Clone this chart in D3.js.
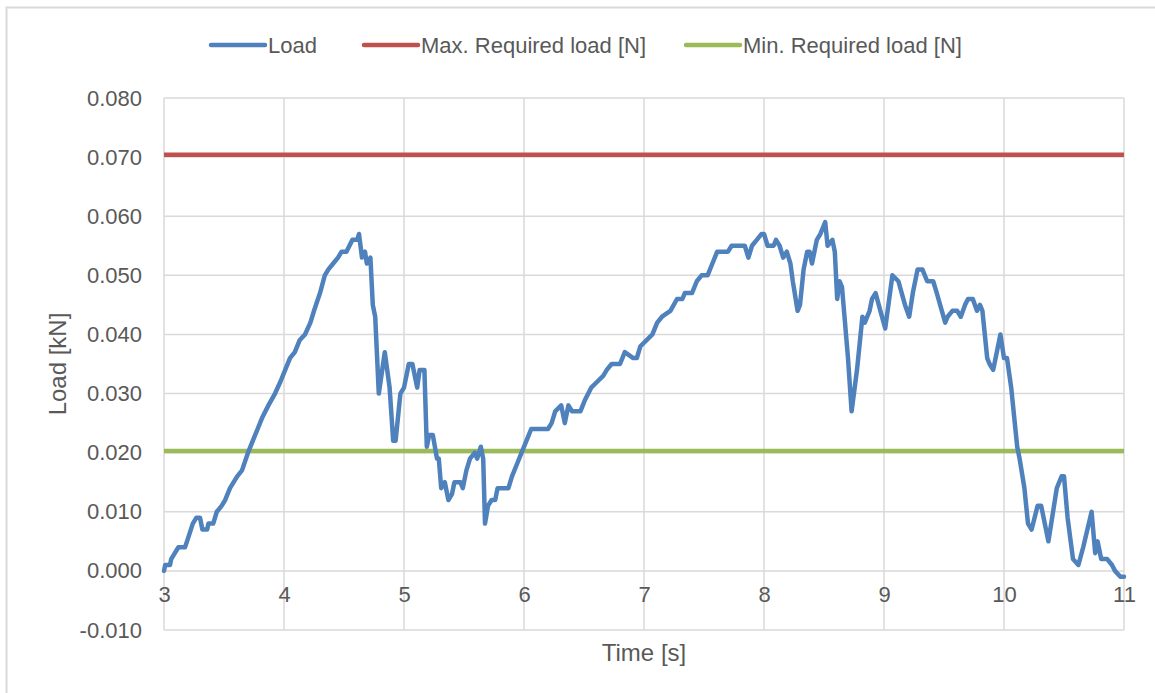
<!DOCTYPE html>
<html>
<head>
<meta charset="utf-8">
<script src="https://cdn.jsdelivr.net/npm/d3@7"></script>
<style>
  body { margin: 0; background: #fff; }
  text { font-family: "Liberation Sans", Arial, sans-serif; fill: #595959; }
</style>
</head>
<body>
<script>
// data
var time = [3.00,3.01,3.05,3.06,3.09,3.12,3.175,3.20,3.24,3.27,3.30,3.32,3.36,3.37,3.41,3.44,3.48,3.51,3.55,3.61,3.65,3.70,3.76,3.82,3.87,3.925,3.97,4.01,4.05,4.09,4.13,4.175,4.22,4.25,4.30,4.34,4.37,4.41,4.45,4.48,4.52,4.57,4.61,4.625,4.65,4.675,4.69,4.72,4.74,4.76,4.79,4.84,4.88,4.91,4.93,4.97,5.00,5.04,5.07,5.11,5.13,5.17,5.19,5.21,5.24,5.275,5.29,5.31,5.34,5.37,5.40,5.42,5.47,5.49,5.52,5.55,5.59,5.61,5.64,5.66,5.675,5.70,5.73,5.76,5.78,5.87,5.90,5.94,5.98,6.02,6.06,6.20,6.23,6.26,6.31,6.34,6.37,6.40,6.47,6.51,6.56,6.61,6.66,6.69,6.73,6.80,6.84,6.91,6.94,6.97,7.02,7.07,7.11,7.15,7.22,7.275,7.32,7.34,7.40,7.44,7.48,7.53,7.57,7.61,7.70,7.73,7.84,7.87,7.90,7.94,7.98,8.00,8.03,8.08,8.10,8.13,8.16,8.19,8.22,8.24,8.28,8.30,8.33,8.36,8.38,8.40,8.44,8.47,8.51,8.53,8.57,8.59,8.61,8.63,8.65,8.70,8.73,8.775,8.82,8.84,8.88,8.90,8.93,8.97,9.01,9.07,9.12,9.175,9.21,9.24,9.28,9.32,9.36,9.41,9.44,9.51,9.53,9.57,9.61,9.64,9.675,9.70,9.74,9.775,9.80,9.82,9.86,9.88,9.91,9.97,10.00,10.025,10.06,10.11,10.13,10.17,10.20,10.23,10.28,10.31,10.37,10.44,10.48,10.50,10.53,10.575,10.62,10.66,10.73,10.76,10.78,10.81,10.86,10.90,10.925,10.97,11.00];
var load = [0.000,0.001,0.001,0.002,0.003,0.004,0.004,0.0055,0.008,0.009,0.009,0.007,0.007,0.008,0.008,0.010,0.011,0.012,0.014,0.016,0.017,0.020,0.023,0.026,0.028,0.030,0.032,0.034,0.036,0.037,0.039,0.040,0.042,0.044,0.047,0.050,0.051,0.052,0.053,0.054,0.054,0.056,0.056,0.057,0.053,0.054,0.052,0.053,0.045,0.043,0.030,0.037,0.031,0.022,0.022,0.030,0.031,0.035,0.035,0.031,0.034,0.034,0.021,0.023,0.023,0.019,0.019,0.014,0.015,0.012,0.013,0.015,0.015,0.014,0.017,0.019,0.020,0.019,0.021,0.019,0.008,0.011,0.012,0.012,0.014,0.014,0.016,0.018,0.020,0.022,0.024,0.024,0.025,0.027,0.028,0.025,0.028,0.027,0.027,0.029,0.031,0.032,0.033,0.034,0.035,0.035,0.037,0.036,0.036,0.038,0.039,0.040,0.042,0.043,0.044,0.046,0.046,0.047,0.047,0.049,0.050,0.050,0.052,0.054,0.054,0.055,0.055,0.053,0.055,0.056,0.057,0.057,0.055,0.055,0.056,0.055,0.053,0.054,0.052,0.049,0.044,0.045,0.051,0.054,0.054,0.052,0.056,0.057,0.059,0.055,0.056,0.054,0.046,0.049,0.048,0.036,0.027,0.034,0.043,0.042,0.044,0.046,0.047,0.044,0.041,0.050,0.049,0.045,0.043,0.047,0.051,0.051,0.049,0.049,0.047,0.042,0.043,0.044,0.044,0.043,0.045,0.046,0.046,0.044,0.045,0.044,0.036,0.035,0.034,0.040,0.036,0.036,0.031,0.021,0.019,0.014,0.008,0.007,0.011,0.011,0.005,0.014,0.016,0.016,0.009,0.002,0.001,0.004,0.010,0.003,0.005,0.002,0.002,0.001,0.000,-0.001,-0.001];
var maxRequired = 0.0704;
var minRequired = 0.0203;
var xTicks = [3, 4, 5, 6, 7, 8, 9, 10, 11];
var yTicks = [-0.01, 0, 0.01, 0.02, 0.03, 0.04, 0.05, 0.06, 0.07, 0.08];
var seriesNames = ["Load", "Max. Required load [N]", "Min. Required load [N]"];
var seriesColors = ["#4f81bd", "#c0504d", "#9bbb59"];

var width = 1155, height = 693;
var plotL = 164, plotR = 1124, plotT = 98, plotB = 630;

var svg = d3.select("body").append("svg")
    .attr("width", width)
    .attr("height", height);

// chart frame
svg.append("rect")
    .attr("x", 6.5).attr("y", 7.5)
    .attr("width", 1170).attr("height", 700)
    .attr("fill", "none")
    .attr("stroke", "#d9d9d9")
    .attr("stroke-width", 2);

var x = d3.scaleLinear().domain([3, 11]).range([plotL, plotR]);
var y = d3.scaleLinear().domain([-0.01, 0.08]).range([plotB, plotT]);

// grid
svg.append("g")
    .attr("class", "grid")
  .selectAll("line")
  .data(yTicks)
  .enter().append("line")
    .attr("x1", plotL).attr("x2", plotR)
    .attr("y1", function(d) { return y(d); })
    .attr("y2", function(d) { return y(d); })
    .attr("stroke", "#d9d9d9").attr("stroke-width", 1.5);

svg.append("g")
    .attr("class", "grid")
  .selectAll("line")
  .data(xTicks)
  .enter().append("line")
    .attr("y1", plotT).attr("y2", plotB)
    .attr("x1", function(d) { return x(d); })
    .attr("x2", function(d) { return x(d); })
    .attr("stroke", "#d9d9d9").attr("stroke-width", 1.5);

// axes (labels only, Excel style) - plain hyphen for negatives like Excel
var fmtY = function(d) { return d3.format(".3f")(d).replace("\u2212", "-"); };

var yAxis = svg.append("g")
    .attr("transform", "translate(" + plotL + ",0)")
    .call(d3.axisLeft(y).tickValues(yTicks).tickFormat(fmtY).tickSize(0).tickPadding(22));
yAxis.select(".domain").remove();
yAxis.selectAll("text").style("font-size", "22px").attr("fill", "#595959")
    .style("font-family", "'Liberation Sans', Arial, sans-serif");

var xAxis = svg.append("g")
    .attr("transform", "translate(0," + y(0) + ")")
    .call(d3.axisBottom(x).tickValues(xTicks).tickFormat(d3.format("d")).tickSize(0).tickPadding(16));
xAxis.select(".domain").remove();
xAxis.selectAll("text").style("font-size", "22px").attr("fill", "#595959")
    .style("font-family", "'Liberation Sans', Arial, sans-serif");

// axis titles
svg.append("text")
    .attr("x", (plotL + plotR) / 2).attr("y", 661)
    .attr("text-anchor", "middle")
    .style("font-size", "24px")
    .text("Time [s]");

svg.append("text")
    .attr("transform", "translate(66," + ((plotT + plotB) / 2) + ") rotate(-90)")
    .attr("text-anchor", "middle")
    .style("font-size", "24px")
    .text("Load [kN]");

// required lines
svg.append("line")
    .attr("x1", plotL).attr("x2", plotR)
    .attr("y1", y(maxRequired)).attr("y2", y(maxRequired))
    .attr("stroke", seriesColors[1]).attr("stroke-width", 4.5);

svg.append("line")
    .attr("x1", plotL).attr("x2", plotR)
    .attr("y1", y(minRequired)).attr("y2", y(minRequired))
    .attr("stroke", seriesColors[2]).attr("stroke-width", 4.5);

// load curve
var pts = time.map(function(t, i) { return [t, load[i]]; });
var line = d3.line()
    .x(function(d) { return x(d[0]); })
    .y(function(d) { return y(d[1]); });

svg.append("path")
    .datum(pts)
    .attr("d", line)
    .attr("fill", "none")
    .attr("stroke", seriesColors[0])
    .attr("stroke-width", 4.5)
    .attr("stroke-linejoin", "round")
    .attr("stroke-linecap", "round");

// legend
var legendX = [211, 364, 686];
var legend = svg.append("g").attr("class", "legend")
  .selectAll("g")
  .data(seriesNames)
  .enter().append("g")
    .attr("transform", function(d, i) { return "translate(" + legendX[i] + ",45)"; });

legend.append("line")
    .attr("x1", 0).attr("x2", 54)
    .attr("stroke", function(d, i) { return seriesColors[i]; })
    .attr("stroke-width", 4.5)
    .attr("stroke-linecap", "round");

legend.append("text")
    .attr("x", 57).attr("y", 8)
    .style("font-size", "22px")
    .text(function(d) { return d; });
</script>
</body>
</html>
